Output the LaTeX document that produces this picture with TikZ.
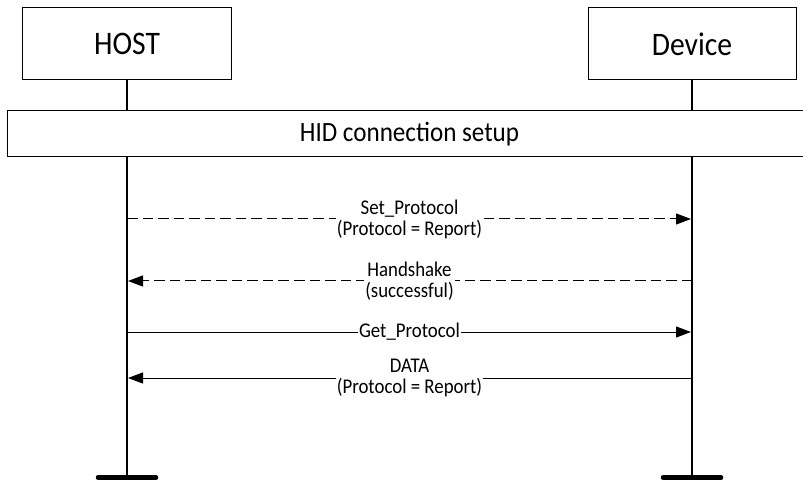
\documentclass[tikz,border=0pt]{standalone}
\usepackage{fontspec}
\setmainfont[FakeStretch=0.9]{Carlito}
\usetikzlibrary{arrows.meta}
\begin{document}
\begin{tikzpicture}[x=1bp,y=-1bp,
  actor/.style={draw, line width=1bp, minimum width=208bp, minimum height=72bp, inner sep=0pt, font=\fontsize{33}{33}\selectfont},
  setupbox/.style={draw, line width=1bp, minimum width=804bp, minimum height=46bp, inner sep=0pt, font=\fontsize{28}{28}\selectfont},
  life/.style={line width=2bp},
  bar/.style={line width=4.5bp, line cap=round},
  msg/.style={line width=1bp, -{Triangle[length=15bp,width=11bp]}, shorten >=1bp},
  dashmsg/.style={msg, dash pattern=on 10.5bp off 5bp},
  lbl/.style={fill=white, inner sep=1bp, align=center, font=\fontsize{21}{21}\selectfont}]
\useasboundingbox (0,0) rectangle (803,481);
\clip (0,0) rectangle (803,481);
\node[actor] (host) at (127,44) {HOST};
\node[actor] (device) at (692,44) {Device};
\node[setupbox] (setup) at (409.5,134) {HID connection setup};
\coordinate (hend) at (127,477.5);
\coordinate (dend) at (692,477.5);
\draw[life] (host.south) -- (host.south |- setup.north);
\draw[life] (host.south |- setup.south) -- (hend);
\draw[life] (device.south) -- (device.south |- setup.north);
\draw[life] (device.south |- setup.south) -- (dend);
\coordinate (hbl) at (98,477.5);
\coordinate (hbr) at (156,477.5);
\coordinate (dbl) at (663,477.5);
\coordinate (dbr) at (721,477.5);
\draw[bar] (hbl) -- (hbr);
\draw[bar] (dbl) -- (dbr);
\coordinate (h1) at (127,219); \coordinate (d1) at (692,219);
\coordinate (h2) at (127,281); \coordinate (d2) at (692,281);
\coordinate (h3) at (127,332); \coordinate (d3) at (692,332);
\coordinate (h4) at (127,378); \coordinate (d4) at (692,378);
\draw[dashmsg] (h1) -- (d1) node[midway, lbl] (l1) {Set\_Protocol\\(Protocol = Report)};
\draw[dashmsg] (d2) -- (h2) node[midway, lbl] (l2) {Handshake\\(successful)};
\draw[msg] (h3) -- (d3) node[midway, lbl] (l3) {Get\_Protocol};
\draw[msg] (d4) -- (h4) node[midway, lbl] (l4) {DATA\\(Protocol = Report)};
\end{tikzpicture}
\end{document}
